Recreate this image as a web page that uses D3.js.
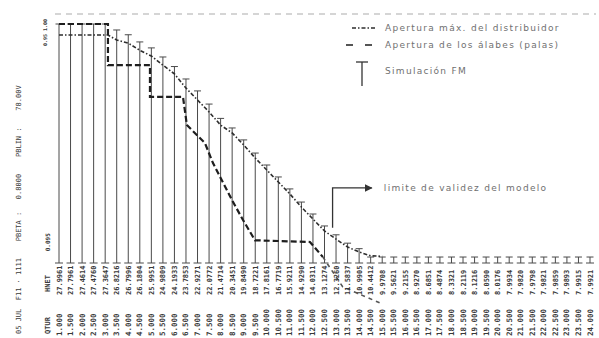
<!DOCTYPE html>
<html>
<head>
<meta charset="utf-8">
<script src="https://cdn.jsdelivr.net/npm/d3@7"></script>
<style>
  html, body { margin: 0; padding: 0; background: #fff; }
  svg { display: block; }
  .hand { font-family: "DejaVu Sans", sans-serif; font-size: 9px; fill: #707070; letter-spacing: 1.3px; }
  .mono { font-family: "DejaVu Sans Mono", monospace; fill: #3a3a3a; white-space: pre; }
</style>
</head>
<body>
<svg id="chart" width="599" height="338"></svg>
<script>
// Operating points (abscissa of each simulated point)
const xLabels = ["1.000","1.500","2.000","2.500","3.000","3.500","4.000","4.500","5.000","5.500",
  "6.000","6.500","7.000","7.500","8.000","8.500","9.000","9.500","10.000","10.500",
  "11.000","11.500","12.000","12.500","13.000","13.500","14.000","14.500","15.000","15.500",
  "16.000","16.500","17.000","17.500","18.000","18.500","19.000","19.500","20.000","20.500",
  "21.000","21.500","22.000","22.500","23.000","23.500","24.000"];

// Printed value under each point
const headValues = ["27.9961","27.7961","27.4614","27.4760","27.3647","26.8216","26.7996","26.1804","25.9951","24.9809",
  "24.1933","23.7853","22.9271","22.0772","21.4714","20.3451","19.8490","18.7221","17.8161","16.7719",
  "15.9211","14.9290","14.0311","13.1274","12.3260","11.5837","10.9905","10.4412","9.9708","9.5621",
  "9.2155","8.9270","8.6851","8.4874","8.3321","8.2119","8.1216","8.0590","8.0176","7.9934",
  "7.9820","7.9798","7.9821","7.9859","7.9893","7.9915","7.9921"];

// Simulación FM (stem heights)
const simFM = [1.0, 1.0, 1.0, 1.0, 1.0, 0.975, 0.955, 0.925, 0.900, 0.862,
  0.822, 0.770, 0.720, 0.665, 0.605, 0.565, 0.515, 0.460, 0.410, 0.360,
  0.310, 0.255, 0.205, 0.155, 0.118, 0.083, 0.060, 0.025, 0.025, 0.025,
  0.025, 0.025, 0.025, 0.025, 0.025, 0.025, 0.025, 0.025, 0.025, 0.025,
  0.025, 0.025, 0.025, 0.025, 0.025, 0.025, 0.025];

// Apertura máx. del distribuidor
const distX = [1.0, 3.12, 3.5, 4.0, 4.5, 5.0, 5.5, 6.0, 6.5, 7.0, 7.5, 8.0, 8.5, 9.0, 9.5,
  10.0, 10.5, 11.0, 11.5, 12.0, 12.5, 13.0, 13.5, 14.0, 14.5, 15.0];
const distV = [0.954, 0.954, 0.933, 0.920, 0.890, 0.866, 0.828, 0.791, 0.732, 0.682, 0.632, 0.577, 0.544, 0.494, 0.439,
  0.389, 0.339, 0.289, 0.234, 0.184, 0.134, 0.100, 0.067, 0.046, 0.030, 0.028];

// Apertura de los álabes (palas)
const palasX = [1.0, 3.12, 3.12, 4.94, 4.94, 6.37, 6.54, 7.32, 7.67, 8.49, 8.97, 9.49, 11.87, 12.43];
const palasV = [1.0, 1.0, 0.828, 0.828, 0.695, 0.695, 0.577, 0.502, 0.418, 0.264, 0.180, 0.095, 0.088, 0.025];
// continuation past the validity limit
const palasTailX = [12.43, 13.29, 14.9];
const palasTailV = [0.025, -0.100, -0.167];

// Reference levels printed on the left
const yTickValues = [1.0, 0.954, 0.095];
const yTickLabels = ["1.00", "0.95", "0.095"];

// Validity limit annotation
const limitX = 12.85, limitLow = 0.147, limitHigh = 0.314, limitArrowEnd = 14.55;

const svg = d3.select("#chart");
const x = d3.scaleLinear().domain([1, 24]).range([59, 590]);
const y = d3.scaleLinear().domain([0, 1]).range([263, 24]);

// faint header strip
svg.append("line")
  .attr("x1", 55).attr("x2", 596).attr("y1", 14).attr("y2", 14)
  .attr("stroke", "#c8c8c8").attr("stroke-width", 1.6).attr("stroke-dasharray", "6,5");

// stems with caps
const pts = xLabels.map((l, i) => ({ x: +l, v: simFM[i], head: headValues[i], label: l }));
const stems = svg.append("g").attr("stroke", "#4a4a4a").attr("stroke-width", 1);
stems.selectAll("line.stem").data(pts).join("line")
  .attr("class", "stem")
  .attr("x1", d => x(d.x)).attr("x2", d => x(d.x))
  .attr("y1", y(0)).attr("y2", d => y(d.v));
stems.selectAll("line.cap").data(pts).join("line")
  .attr("class", "cap")
  .attr("x1", d => x(d.x) - 3.5).attr("x2", d => x(d.x) + 3.5)
  .attr("y1", d => y(d.v)).attr("y2", d => y(d.v));
stems.selectAll("line.base").data(pts).join("line")
  .attr("class", "base")
  .attr("x1", d => x(d.x) - 4).attr("x2", d => x(d.x) + 4)
  .attr("y1", y(0)).attr("y2", y(0));

const line = d3.line().x(d => x(d[0])).y(d => y(d[1]));

// distribuidor curve (dash-dot)
svg.append("path")
  .datum(distX.map((v, i) => [v, distV[i]]))
  .attr("d", line).attr("fill", "none")
  .attr("stroke", "#2e2e2e").attr("stroke-width", 1.6)
  .attr("stroke-dasharray", "4,2,1.5,2");

// palas curve (heavy dashes)
svg.append("path")
  .datum(palasX.map((v, i) => [v, palasV[i]]))
  .attr("d", line).attr("fill", "none")
  .attr("stroke", "#1e1e1e").attr("stroke-width", 2.2)
  .attr("stroke-dasharray", "6,3");
svg.append("path")
  .datum(palasTailX.map((v, i) => [v, palasTailV[i]]))
  .attr("d", line).attr("fill", "none")
  .attr("stroke", "#555").attr("stroke-width", 1.6)
  .attr("stroke-dasharray", "4,4");

// left reference labels (start of text sits just below each level)
svg.append("g").selectAll("text").data(yTickValues).join("text")
  .attr("class", "mono").attr("font-weight", "bold")
  .attr("font-size", (d, i) => i === 2 ? 6 : 5)
  .attr("text-anchor", "start")
  .attr("transform", (d, i) => `translate(${i === 2 ? 50 : 47},${y(d) + (i === 0 ? 7 : 11)}) rotate(-90)`)
  .text((d, i) => yTickLabels[i]);

// printed values under the stems
svg.append("g").selectAll("text").data(pts).join("text")
  .attr("class", "mono").attr("font-size", 7).attr("font-weight", "bold")
  .attr("transform", d => `translate(${x(d.x) + 2.5},295) rotate(-90)`)
  .text(d => d.head);
svg.append("g").selectAll("text").data(pts).join("text")
  .attr("class", "mono").attr("font-size", 7.5).attr("font-weight", "bold")
  .attr("transform", d => `translate(${x(d.x) + 2.5},336) rotate(-90)`)
  .text(d => d.label);

// row headers
svg.append("text").attr("class", "mono").attr("font-size", 7).attr("font-weight", "bold")
  .attr("transform", "translate(50,292) rotate(-90)").text("HNET");
svg.append("text").attr("class", "mono").attr("font-size", 7).attr("font-weight", "bold")
  .attr("transform", "translate(50,334) rotate(-90)").text("QTUR");

// run info along the left edge
svg.append("text").attr("class", "mono").attr("font-size", 7)
  .attr("transform", "translate(21,334) rotate(-90)")
  .text("05 JUL  F11 · 1111    PBETA :   0.8000    PBLIN :    78.00V");

// validity limit annotation
svg.append("defs").append("marker")
  .attr("id", "arrow").attr("viewBox", "0 0 10 10").attr("refX", 9).attr("refY", 5)
  .attr("markerWidth", 6).attr("markerHeight", 6).attr("orient", "auto")
  .append("path").attr("d", "M0,0L10,5L0,10Z").attr("fill", "#333");
svg.append("path")
  .attr("d", `M${x(limitX)},${y(limitLow)}V${y(limitHigh)}H${x(limitArrowEnd)}`)
  .attr("fill", "none").attr("stroke", "#333").attr("stroke-width", 1.3)
  .attr("marker-end", "url(#arrow)");
svg.append("text").attr("class", "hand")
  .attr("x", x(limitArrowEnd) + 12).attr("y", y(limitHigh) + 3)
  .text("limite de validez del modelo");

// legend
const lg = svg.append("g");
lg.append("line").attr("x1", 352).attr("x2", 377).attr("y1", 28).attr("y2", 28)
  .attr("stroke", "#2e2e2e").attr("stroke-width", 1.6).attr("stroke-dasharray", "4,2,1.5,2");
lg.append("text").attr("class", "hand").attr("x", 385).attr("y", 31)
  .text("Apertura máx. del distribuidor");
lg.append("line").attr("x1", 346).attr("x2", 373).attr("y1", 45).attr("y2", 45)
  .attr("stroke", "#1e1e1e").attr("stroke-width", 1.6).attr("stroke-dasharray", "7,12");
lg.append("text").attr("class", "hand").attr("x", 385).attr("y", 48)
  .text("Apertura de los álabes (palas)");
lg.append("line").attr("x1", 362).attr("x2", 362).attr("y1", 62).attr("y2", 86)
  .attr("stroke", "#333").attr("stroke-width", 1.3);
lg.append("line").attr("x1", 356).attr("x2", 368).attr("y1", 62).attr("y2", 62)
  .attr("stroke", "#333").attr("stroke-width", 1.3);
lg.append("text").attr("class", "hand").attr("x", 385).attr("y", 74)
  .text("Simulación  FM");
</script>
</body>
</html>
